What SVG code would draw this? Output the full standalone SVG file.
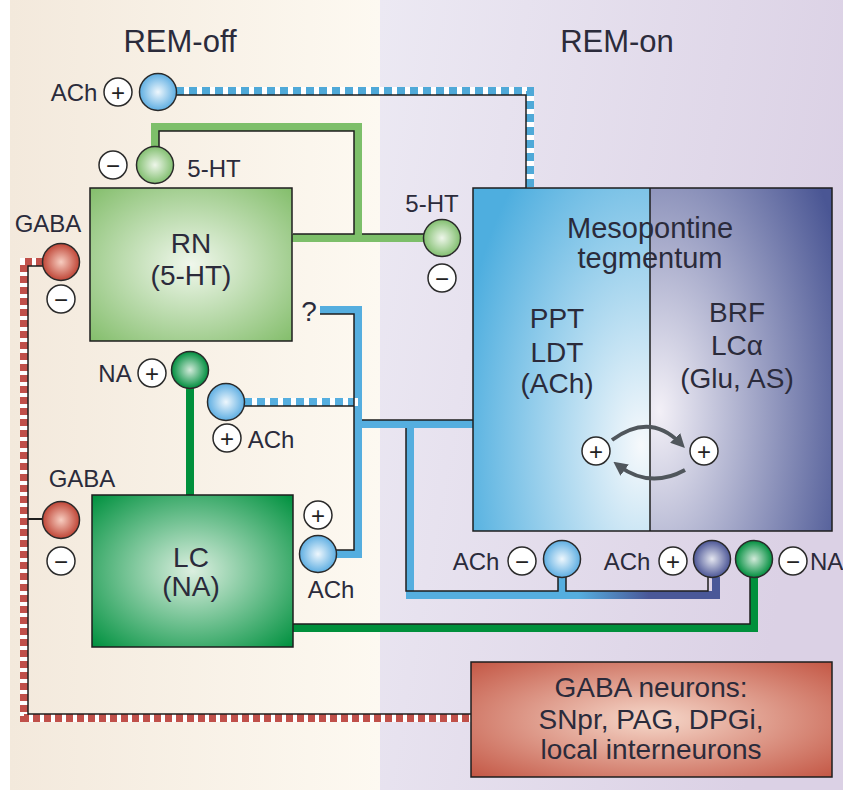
<svg xmlns="http://www.w3.org/2000/svg" width="843" height="790" viewBox="0 0 843 790">
<style>
text{font-family:"Liberation Sans",Arial,sans-serif;fill:#2b2b3b}
.t{font-size:31px;text-anchor:middle}
.b{font-size:28px;text-anchor:middle}
.l{font-size:24px;text-anchor:middle}
.s{font-size:24px;text-anchor:middle;fill:#222}
.sg{fill:#fff;stroke:#2a2a2a;stroke-width:1.5}
.nd{stroke:#2a2a2a;stroke-width:1.5}
.p{fill:none;stroke-width:8;stroke-linejoin:miter;stroke-linecap:butt}
.e{fill:none;stroke:#1e1e1e;stroke-width:1.5}
.box{stroke:#1e1e1e;stroke-width:1.5}
.arc{fill:none;stroke:#50565c;stroke-width:4}
</style>
<defs>
<linearGradient id="bgL" x1="0" x2="1" y1="0" y2="0"><stop offset="0" stop-color="#f3e9dc"/><stop offset="1" stop-color="#fdf9f1"/></linearGradient>
<linearGradient id="bgR" x1="0" x2="1" y1="0" y2="0.3"><stop offset="0" stop-color="#ece9f3"/><stop offset="1" stop-color="#dbd1e5"/></linearGradient>
<radialGradient id="gRN" cx="0.5" cy="0.5" r="0.7"><stop offset="0" stop-color="#f0f7ec"/><stop offset="1" stop-color="#84be6c"/></radialGradient>
<radialGradient id="gLC" cx="0.5" cy="0.5" r="0.7"><stop offset="0" stop-color="#dcefe0"/><stop offset="1" stop-color="#00913f"/></radialGradient>
<radialGradient id="gGABA" cx="0.5" cy="0.5" r="0.7"><stop offset="0" stop-color="#f6d8ca"/><stop offset="1" stop-color="#c45846"/></radialGradient>
<radialGradient id="gPPT" cx="0.95" cy="0.75" r="1.05"><stop offset="0" stop-color="#f6f9fc"/><stop offset="1" stop-color="#4eaedf"/></radialGradient>
<radialGradient id="gBRF" cx="0.05" cy="0.65" r="1.1"><stop offset="0" stop-color="#f3f0f7"/><stop offset="1" stop-color="#4a5694"/></radialGradient>
<radialGradient id="cB" cx="0.5" cy="0.5" r="0.5"><stop offset="0" stop-color="#eef7fd"/><stop offset="1" stop-color="#5eaee2"/></radialGradient>
<radialGradient id="cG" cx="0.5" cy="0.5" r="0.5"><stop offset="0" stop-color="#eef6ea"/><stop offset="1" stop-color="#82bf70"/></radialGradient>
<radialGradient id="cR" cx="0.5" cy="0.5" r="0.5"><stop offset="0" stop-color="#f7cdc0"/><stop offset="1" stop-color="#bf4536"/></radialGradient>
<radialGradient id="cDG" cx="0.5" cy="0.5" r="0.5"><stop offset="0" stop-color="#d2eada"/><stop offset="1" stop-color="#008e3e"/></radialGradient>
<radialGradient id="cDB" cx="0.5" cy="0.5" r="0.5"><stop offset="0" stop-color="#e4e6f0"/><stop offset="1" stop-color="#4c5696"/></radialGradient>
<linearGradient id="gLine" gradientUnits="userSpaceOnUse" x1="410" y1="0" x2="716" y2="0"><stop offset="0.55" stop-color="#55aedf"/><stop offset="0.78" stop-color="#4a5898"/></linearGradient>
<marker id="ah" viewBox="0 0 10 10" refX="5" refY="5" markerWidth="14" markerHeight="14" markerUnits="userSpaceOnUse" orient="auto"><path d="M0,0 L10,5 L0,10 z" fill="#50565c"/></marker>
</defs>

<g id="background">
<rect x="0" y="0" width="843" height="790" fill="#fff"/>
<rect x="10" y="0" width="370" height="790" fill="url(#bgL)"/>
<rect x="380" y="0" width="463" height="790" fill="url(#bgR)"/>
<text class="t" x="180" y="52">REM-off</text>
<text class="t" x="617" y="52">REM-on</text>
</g>

<g id="connectors">
<g id="c-ach-top">
<path class="p" d="M176,91 H530 V188" stroke="#fff"/>
<path class="p" d="M176,91 H530 V188" stroke="#4fa9d8" stroke-dasharray="8 5"/>
<path class="e" d="M176,95 H526 V188"/>
</g>
<g id="c-5ht">
<path class="p" d="M155,147 V127 H358 V238 M292,238 H424" stroke="#7dbf6a"/>
<path class="e" d="M159,147 V131 H354 V234 H293 M362,234 H424"/>
</g>
<g id="c-gaba">
<path class="p" d="M43,262 H24 V718 H471" stroke="#fff"/>
<path class="p" d="M43,262 H24 V718 H471" stroke="#c0504a" stroke-dasharray="7 4"/>
<path class="e" d="M43,266 H28 V714 H471"/>
<path d="M28,519 H43" stroke="#1e1e1e" stroke-width="2"/>
</g>
<g id="c-ach-blue">
<path class="p" d="M320,310 H358 V554 H336 M358,424 H473" stroke="#55aedf"/>
<path class="p" d="M410,424 V595 H716 V577" stroke="url(#gLine)"/>
<path class="p" d="M562,595 V577" stroke="#55aedf"/>
<path class="p" d="M244,402 H358" stroke="#fff"/>
<path class="p" d="M244,402 H354" stroke="#55aedf" stroke-dasharray="8 5"/>
<path class="e" d="M320,314 H354 V550 H336 M362,420 H473 M406,428 V591 H558 V577 M566,577 V591 H708 V577 M244,406 H354"/>
</g>
<g id="c-na">
<path class="p" d="M190,388 V495" stroke="#00903c"/>
<path class="p" d="M293,628 H754 V577" stroke="#00903c"/>
<path class="e" d="M293,624 H750 V577"/>
</g>
</g>

<g id="node-rn">
<rect class="box" x="90" y="188" width="202" height="153" fill="url(#gRN)"/>
<text class="b" x="191" y="253">RN</text>
<text class="b" x="191" y="285">(5-HT)</text>
</g>
<g id="node-lc">
<rect class="box" x="92" y="495" width="201" height="152" fill="url(#gLC)"/>
<text class="b" x="191" y="567">LC</text>
<text class="b" x="191" y="596">(NA)</text>
</g>
<g id="node-mesopontine">
<rect x="473" y="188" width="177" height="343" fill="url(#gPPT)"/>
<rect x="650" y="188" width="182" height="343" fill="url(#gBRF)"/>
<rect x="473" y="188" width="359" height="343" fill="none" class="box"/>
<line x1="650" y1="188" x2="650" y2="531" stroke="#1e1e1e" stroke-width="1.5"/>
<text class="b" x="650" y="238" style="font-size:29px">Mesopontine</text>
<text class="b" x="650" y="268" style="font-size:29px">tegmentum</text>
<text class="b" x="557" y="328">PPT</text>
<text class="b" x="557" y="362">LDT</text>
<text class="b" x="557" y="393">(ACh)</text>
<text class="b" x="737" y="322">BRF</text>
<text class="b" x="737" y="355">LCα</text>
<text class="b" x="737" y="388">(Glu, AS)</text>
<circle class="sg" cx="596" cy="451" r="14"/><text class="s" x="596" y="459.5">+</text>
<circle class="sg" cx="704" cy="451" r="14"/><text class="s" x="704" y="459.5">+</text>
</g>
<g id="c-loop">
<path class="arc" d="M612,440 Q650,412 680,443" marker-end="url(#ah)"/>
<path class="arc" d="M685,470 Q650,489 619,466" marker-end="url(#ah)"/>
</g>
<g id="node-gaba">
<rect class="box" x="471" y="662" width="361" height="115" fill="url(#gGABA)"/>
<text class="b" x="651" y="697">GABA neurons:</text>
<text class="b" x="651" y="729">SNpr, PAG, DPGi,</text>
<text class="b" x="651" y="759">local interneurons</text>
</g>

<g id="term-ach-top">
<circle class="nd" cx="158" cy="92" r="18.5" fill="url(#cB)"/>
<circle class="sg" cx="118" cy="92" r="14"/><text class="s" x="118" y="100.5">+</text>
<text class="l" x="74" y="101">ACh</text>
</g>
<g id="term-5ht-top">
<circle class="nd" cx="155" cy="165" r="18.5" fill="url(#cG)"/>
<circle class="sg" cx="113" cy="165" r="14"/><text class="s" x="113" y="173.5">−</text>
<text class="l" x="214" y="177">5-HT</text>
</g>
<g id="term-5ht-right">
<circle class="nd" cx="442" cy="238" r="18.5" fill="url(#cG)"/>
<circle class="sg" cx="442" cy="278" r="14"/><text class="s" x="442" y="286.5">−</text>
<text class="l" x="432" y="212">5-HT</text>
</g>
<g id="term-gaba-top">
<circle class="nd" cx="61" cy="262" r="18.5" fill="url(#cR)"/>
<circle class="sg" cx="61" cy="299" r="14"/><text class="s" x="61" y="307.5">−</text>
<text class="l" x="48" y="232">GABA</text>
</g>
<g id="term-gaba-low">
<circle class="nd" cx="61" cy="520" r="18.5" fill="url(#cR)"/>
<circle class="sg" cx="61" cy="561" r="14"/><text class="s" x="61" y="569.5">−</text>
<text class="l" x="82" y="487">GABA</text>
</g>
<g id="term-na">
<circle class="nd" cx="190" cy="370" r="18.5" fill="url(#cDG)"/>
<circle class="sg" cx="152" cy="373" r="14"/><text class="s" x="152" y="381.5">+</text>
<text class="l" x="115" y="382">NA</text>
</g>
<g id="term-ach-mid">
<circle class="nd" cx="226" cy="402" r="18.5" fill="url(#cB)"/>
<circle class="sg" cx="227" cy="438" r="14"/><text class="s" x="227" y="446.5">+</text>
<text class="l" x="271" y="448">ACh</text>
</g>
<g id="term-q">
<text class="l" x="309" y="321" style="font-size:28px">?</text>
</g>
<g id="term-ach-lc">
<circle class="nd" cx="318" cy="554" r="18.5" fill="url(#cB)"/>
<circle class="sg" cx="318" cy="515" r="14"/><text class="s" x="318" y="523.5">+</text>
<text class="l" x="331" y="598">ACh</text>
</g>
<g id="term-ach-bottom-minus">
<circle class="nd" cx="562" cy="559" r="18.5" fill="url(#cB)"/>
<circle class="sg" cx="522" cy="561" r="14"/><text class="s" x="522" y="569.5">−</text>
<text class="l" x="476" y="570">ACh</text>
</g>
<g id="term-ach-bottom-plus">
<circle class="nd" cx="712" cy="559" r="18.5" fill="url(#cDB)"/>
<circle class="sg" cx="673" cy="561" r="14"/><text class="s" x="673" y="569.5">+</text>
<text class="l" x="627" y="570">ACh</text>
</g>
<g id="term-na-bottom">
<circle class="nd" cx="754" cy="559" r="18.5" fill="url(#cDG)"/>
<circle class="sg" cx="793" cy="561" r="14"/><text class="s" x="793" y="569.5">−</text>
<text class="l" x="810" y="570" style="text-anchor:start">NA</text>
</g>
</svg>
